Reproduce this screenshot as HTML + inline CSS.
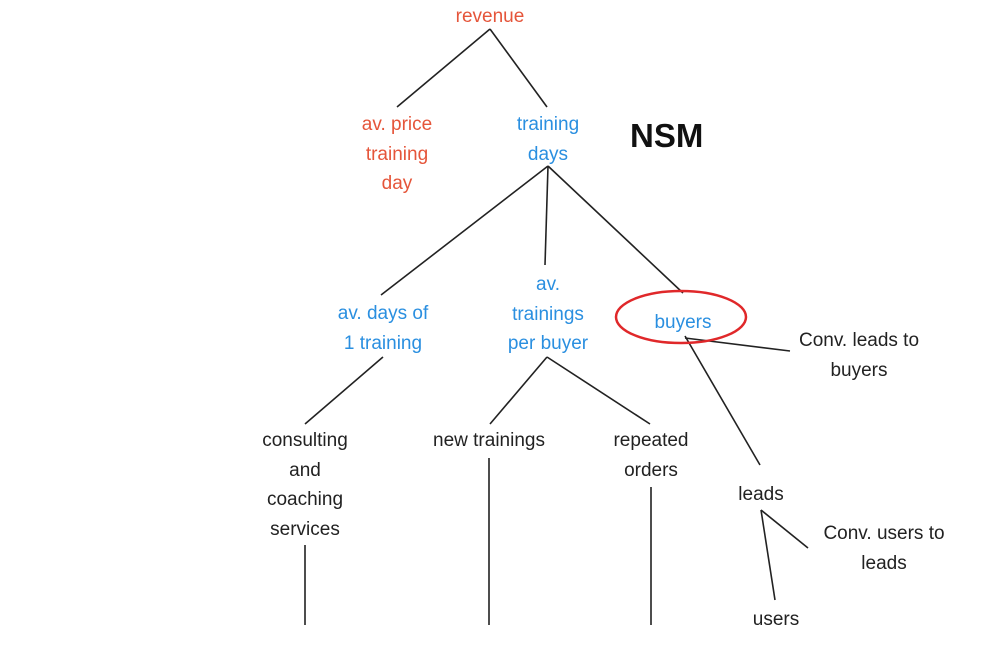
<!DOCTYPE html>
<html><head><meta charset="utf-8"><style>
body{margin:0;width:987px;height:658px;background:#fff;position:relative;overflow:hidden;font-family:"Liberation Sans",sans-serif;}
.t{position:absolute;font-size:19px;line-height:29.5px;text-align:center;width:200px;margin-left:-100px;color:#222;}
.r{color:#e5553a}.b{color:#2a8fe0}
</style></head><body>
<svg width="987" height="658" style="position:absolute;left:0;top:0" fill="none" stroke="#222" stroke-width="1.6">
<line x1="490" y1="29" x2="397" y2="107"/>
<line x1="490" y1="29" x2="547" y2="107"/>
<line x1="548" y1="166" x2="381" y2="295"/>
<line x1="548" y1="166" x2="545" y2="265"/>
<line x1="548" y1="166" x2="683" y2="293"/>
<line x1="383" y1="357" x2="305" y2="424"/>
<line x1="547" y1="357" x2="490" y2="424"/>
<line x1="547" y1="357" x2="650" y2="424"/>
<line x1="685" y1="338" x2="790" y2="351"/>
<line x1="685" y1="336" x2="760" y2="465"/>
<line x1="761" y1="510" x2="808" y2="548"/>
<line x1="761" y1="510" x2="775" y2="600"/>
<line x1="305" y1="545" x2="305" y2="625"/>
<line x1="489" y1="458" x2="489" y2="625"/>
<line x1="651" y1="487" x2="651" y2="625"/>
<ellipse cx="681" cy="317" rx="65" ry="26" stroke="#e0282a" stroke-width="2.5"/>
</svg>
<div class="t r" style="left:490px;top:2px">revenue</div>
<div class="t r" style="left:397px;top:110px">av. price<br>training<br>day</div>
<div class="t b" style="left:548px;top:110px">training<br>days</div>
<div style="position:absolute;left:630px;top:117px;font-size:33px;font-weight:bold;color:#111">NSM</div>
<div class="t b" style="left:383px;top:299px">av. days of<br>1 training</div>
<div class="t b" style="left:548px;top:270px">av.<br>trainings<br>per buyer</div>
<div class="t b" style="left:683px;top:308px">buyers</div>
<div class="t" style="left:859px;top:326px">Conv. leads to<br>buyers</div>
<div class="t" style="left:305px;top:426px">consulting<br>and<br>coaching<br>services</div>
<div class="t" style="left:489px;top:426px">new trainings</div>
<div class="t" style="left:651px;top:426px">repeated<br>orders</div>
<div class="t" style="left:761px;top:480px">leads</div>
<div class="t" style="left:884px;top:519px">Conv. users to<br>leads</div>
<div class="t" style="left:776px;top:605px">users</div>
</body></html>
